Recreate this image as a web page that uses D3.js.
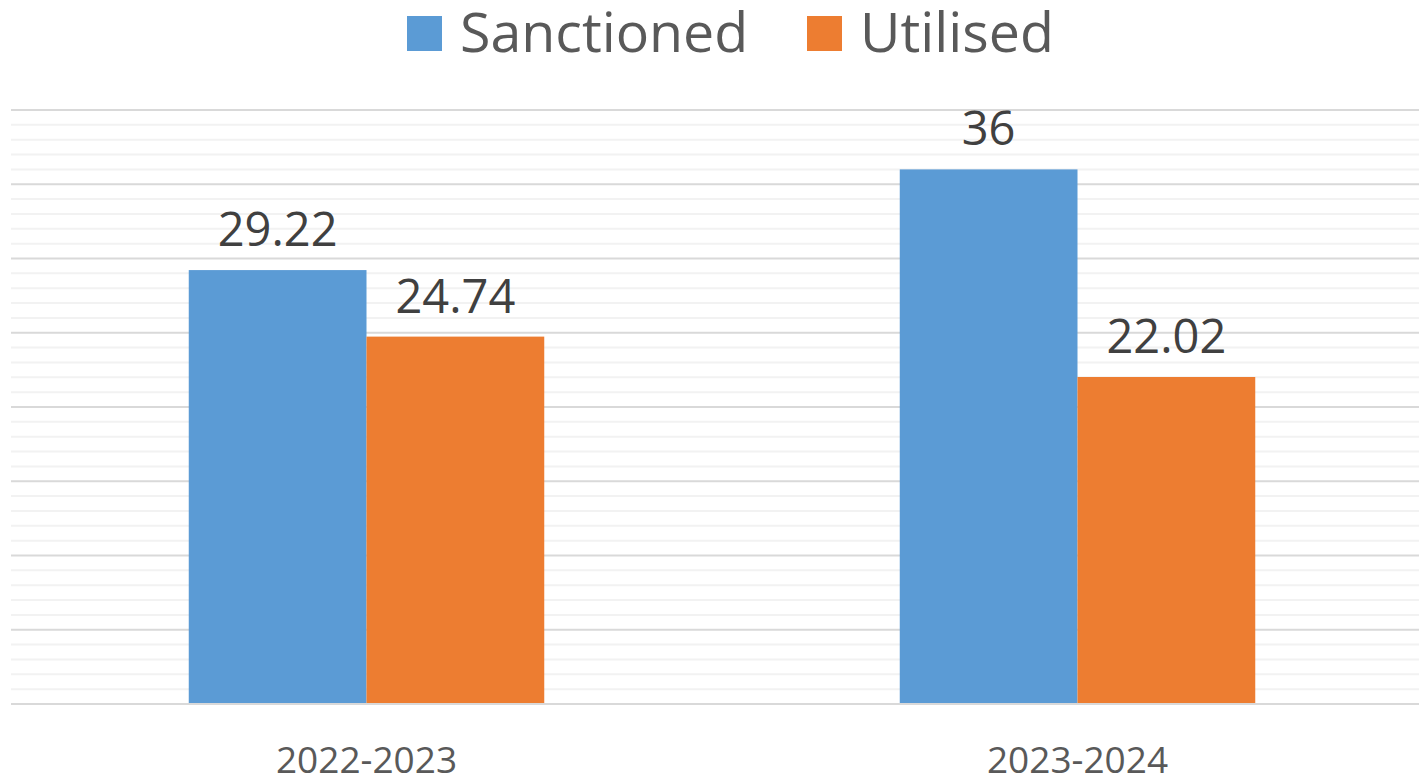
<!DOCTYPE html>
<html>
<head>
<meta charset="utf-8">
<script src="https://cdn.jsdelivr.net/npm/d3@7"></script>
<style>
body{margin:0;background:#fff;}
svg text{font-family:"Open Sans",sans-serif;}
</style>
</head>
<body>
<svg></svg>
<script>
var years = ["2022-2023", "2023-2024"];
var seriesNames = ["Sanctioned", "Utilised"];
var sanctioned = [29.22, 36];
var utilised = [24.74, 22.02];
var colors = ["#5b9bd5", "#ed7d31"];

var width = 1419, height = 780;
var plotLeft = 11, plotRight = 1433, plotTop = 110, plotBottom = 704;

var svg = d3.select("svg").attr("width", width).attr("height", height);

var y = d3.scaleLinear().domain([0, 40]).range([plotBottom, plotTop]);
var x0 = d3.scaleBand().domain(years).range([plotLeft, plotRight]).paddingInner(0.5).paddingOuter(0.25);
var x1 = d3.scaleBand().domain(seriesNames).range([0, x0.bandwidth()]);

// minor then major gridlines
svg.append("g").selectAll("line")
	.data(d3.range(1, 40).filter(function(v){ return v % 5 != 0; }))
	.join("line")
	.attr("x1", plotLeft).attr("x2", width)
	.attr("y1", function(d){ return y(d); })
	.attr("y2", function(d){ return y(d); })
	.style("stroke", "#f2f2f2").style("stroke-width", 2);

svg.append("g").selectAll("line")
	.data(d3.range(5, 41, 5))
	.join("line")
	.attr("x1", plotLeft).attr("x2", width)
	.attr("y1", function(d){ return y(d); })
	.attr("y2", function(d){ return y(d); })
	.style("stroke", "#d9d9d9").style("stroke-width", 2);

var rows = years.map(function(yr, i){
	return {year: yr, vals: [sanctioned[i], utilised[i]]};
});

var groups = svg.append("g").selectAll("g")
	.data(rows).join("g")
	.attr("transform", function(d){ return "translate(" + x0(d.year) + ",0)"; });

groups.selectAll("rect")
	.data(function(d){ return d.vals.map(function(v, j){ return {name: seriesNames[j], v: v, j: j}; }); })
	.join("rect")
	.attr("x", function(d){ return x1(d.name); })
	.attr("width", x1.bandwidth())
	.attr("y", function(d){ return y(d.v); })
	.attr("height", function(d){ return plotBottom - y(d.v); })
	.style("fill", function(d){ return colors[d.j]; });

groups.selectAll("text")
	.data(function(d){ return d.vals.map(function(v, j){ return {name: seriesNames[j], v: v}; }); })
	.join("text")
	.attr("x", function(d){ return x1(d.name) + x1.bandwidth() / 2; })
	.attr("y", function(d){ return y(d.v) - 24; })
	.attr("text-anchor", "middle")
	.style("font-size", "47px")
	.style("fill", "#404040")
	.text(function(d){ return d.v; });

// x axis line
svg.append("line")
	.attr("x1", plotLeft).attr("x2", width)
	.attr("y1", plotBottom).attr("y2", plotBottom)
	.style("stroke", "#d9d9d9").style("stroke-width", 2);

svg.append("g").selectAll("text")
	.data(years).join("text")
	.attr("x", function(d){ return x0(d) + x0.bandwidth() / 2; })
	.attr("y", 773)
	.attr("text-anchor", "middle")
	.style("font-size", "37px")
	.style("fill", "#595959")
	.text(function(d){ return d; });

// legend
var legendX = [407, 807];
var leg = svg.append("g").selectAll("g")
	.data(seriesNames).join("g")
	.attr("transform", function(d, i){ return "translate(" + legendX[i] + ",0)"; });
leg.append("rect")
	.attr("x", 0).attr("y", 16).attr("width", 35).attr("height", 35)
	.style("fill", function(d, i){ return colors[i]; });
leg.append("text")
	.attr("x", 53).attr("y", 52)
	.style("font-size", "55.5px")
	.style("fill", "#595959")
	.text(function(d){ return d; });
</script>
</body>
</html>
